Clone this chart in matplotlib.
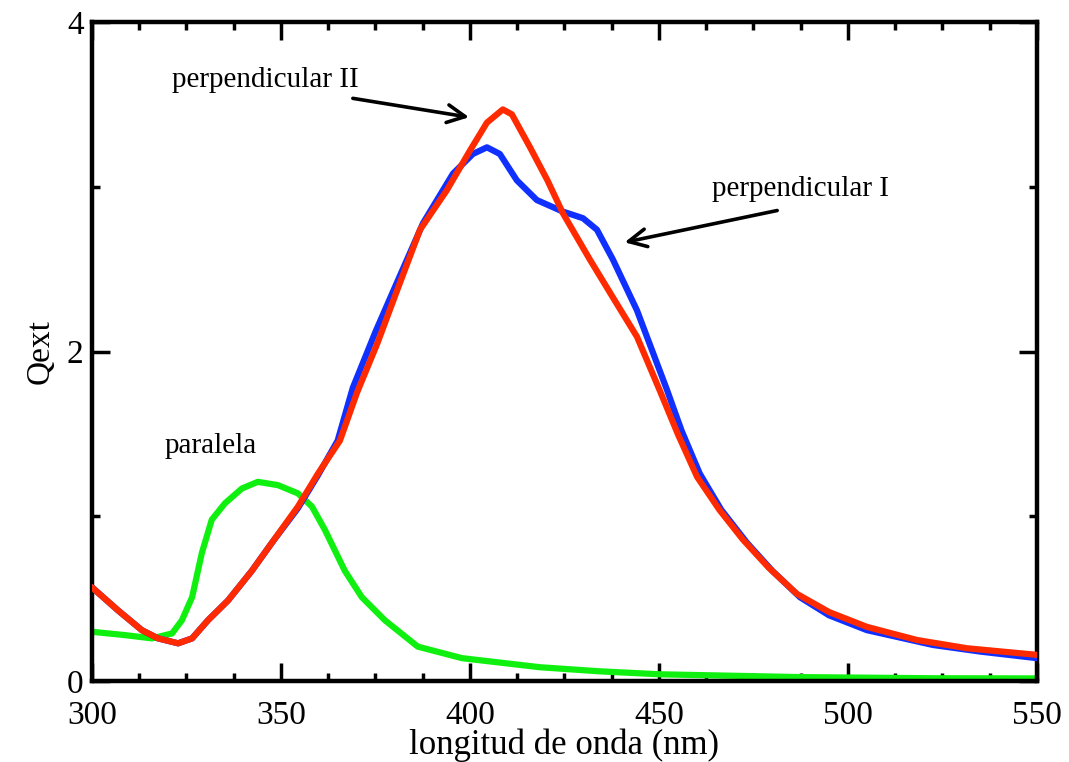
import numpy as np
import matplotlib.pyplot as plt
from matplotlib.ticker import MultipleLocator, FixedLocator

plt.rcParams['font.family'] = ['Liberation Serif', 'DejaVu Serif']

# perpendicular II (red)
x_perp2 = [300, 306.9, 313.2, 317.5, 322.8, 326.5, 330.7, 336, 342.3, 347.6, 354.5,
           359.8, 365.6, 370.1, 375.5, 380.7, 386.8, 393.9, 400.0, 404.5, 408.7, 411.1,
           415.9, 420.5, 424.6, 431.7, 437.8, 444.2, 450.3, 455.0, 460.1, 466.0, 472.2,
           479.0, 486.5, 495.0, 505.0, 518.3, 531.5, 550]
y_perp2 = [0.57, 0.43, 0.31, 0.26, 0.23, 0.26, 0.37, 0.49, 0.67, 0.84, 1.06,
           1.26, 1.46, 1.75, 2.05, 2.37, 2.74, 2.98, 3.22, 3.39, 3.47, 3.44,
           3.24, 3.04, 2.84, 2.56, 2.33, 2.09, 1.76, 1.50, 1.24, 1.04, 0.86,
           0.69, 0.53, 0.42, 0.33, 0.25, 0.20, 0.16]

# perpendicular I (blue)
x_perp1 = [300, 306.9, 313.2, 317.5, 322.8, 326.5, 330.7, 336, 342.3, 347.6, 354.5,
           359.8, 365.0, 369.0, 375.0, 380.7, 387.6, 395.5, 400.8, 404.5, 407.9, 412.4,
           417.7, 424.6, 429.9, 433.6, 437.8, 444.2, 452.1, 456.0, 460.8, 466.5, 473.3,
           480.0, 487.3, 495.0, 505.0, 522.5, 535.0, 550]
y_perp1 = [0.57, 0.43, 0.31, 0.26, 0.23, 0.26, 0.37, 0.49, 0.67, 0.84, 1.05,
           1.25, 1.46, 1.78, 2.12, 2.42, 2.78, 3.08, 3.20, 3.24, 3.20, 3.04,
           2.92, 2.85, 2.81, 2.74, 2.56, 2.25, 1.77, 1.52, 1.26, 1.04, 0.84,
           0.67, 0.51, 0.40, 0.31, 0.22, 0.18, 0.14]

# paralela (green)
x_par = [300, 308.7, 315.9, 321.2, 323.8, 326.5, 329.1, 331.7, 335.2, 339.7, 343.9,
         349.2, 354.5, 358.2, 361.6, 366.9, 371.4, 377.5, 386.2, 397.9, 418.5, 434.4,
         450.3, 487.3, 522.5, 550]
y_par = [0.30, 0.28, 0.26, 0.29, 0.37, 0.51, 0.78, 0.98, 1.08, 1.17, 1.21,
         1.19, 1.14, 1.06, 0.92, 0.67, 0.51, 0.37, 0.21, 0.14, 0.085, 0.06,
         0.042, 0.025, 0.018, 0.017]

fig = plt.figure(figsize=(10.69, 7.62), dpi=100)
ax = fig.add_axes([0.086, 0.106, 0.884, 0.865])

ax.plot(x_par, y_par, color='#10f010', lw=4.5, solid_capstyle='round',
        solid_joinstyle='round', zorder=2)
ax.plot(x_perp1, y_perp1, color='#1030ff', lw=4.5, solid_capstyle='round',
        solid_joinstyle='round', zorder=3)
ax.plot(x_perp2, y_perp2, color='#ff2a00', lw=4.5, solid_capstyle='round',
        solid_joinstyle='round', zorder=4)

ax.set_xlim(300, 550)
ax.set_ylim(0, 4)

ax.xaxis.set_major_locator(MultipleLocator(50))
ax.xaxis.set_minor_locator(MultipleLocator(12.5))
ax.yaxis.set_major_locator(FixedLocator([0, 2, 4]))
ax.yaxis.set_minor_locator(FixedLocator([1, 3]))

ax.tick_params(which='both', direction='in', top=True, right=True, width=2.5,
               labelsize=24, color='black')
ax.tick_params(axis='x', which='major', length=13, pad=14)
ax.tick_params(axis='y', which='major', length=13, pad=6)
ax.tick_params(which='minor', length=6)
for s in ax.spines.values():
    s.set_linewidth(3.2)

ax.set_xlabel('longitud de onda (nm)', fontsize=25, labelpad=-2)
ax.set_ylabel('Qext', fontsize=24, labelpad=8)

arrow = dict(arrowstyle='->', lw=2.6, color='black', mutation_scale=32)
ax.annotate('', xy=(400.5, 3.42), xytext=(368.3, 3.54), arrowprops=arrow)
ax.text(321.3, 3.65, 'perpendicular II', fontsize=21, ha='left', va='center')
ax.annotate('', xy=(440.2, 2.66), xytext=(482, 2.86), arrowprops=arrow)
ax.text(464, 2.99, 'perpendicular I', fontsize=21, ha='left', va='center')
ax.text(319.3, 1.43, 'paralela', fontsize=21, ha='left', va='center')

fig.savefig('out.png', dpi=100)
